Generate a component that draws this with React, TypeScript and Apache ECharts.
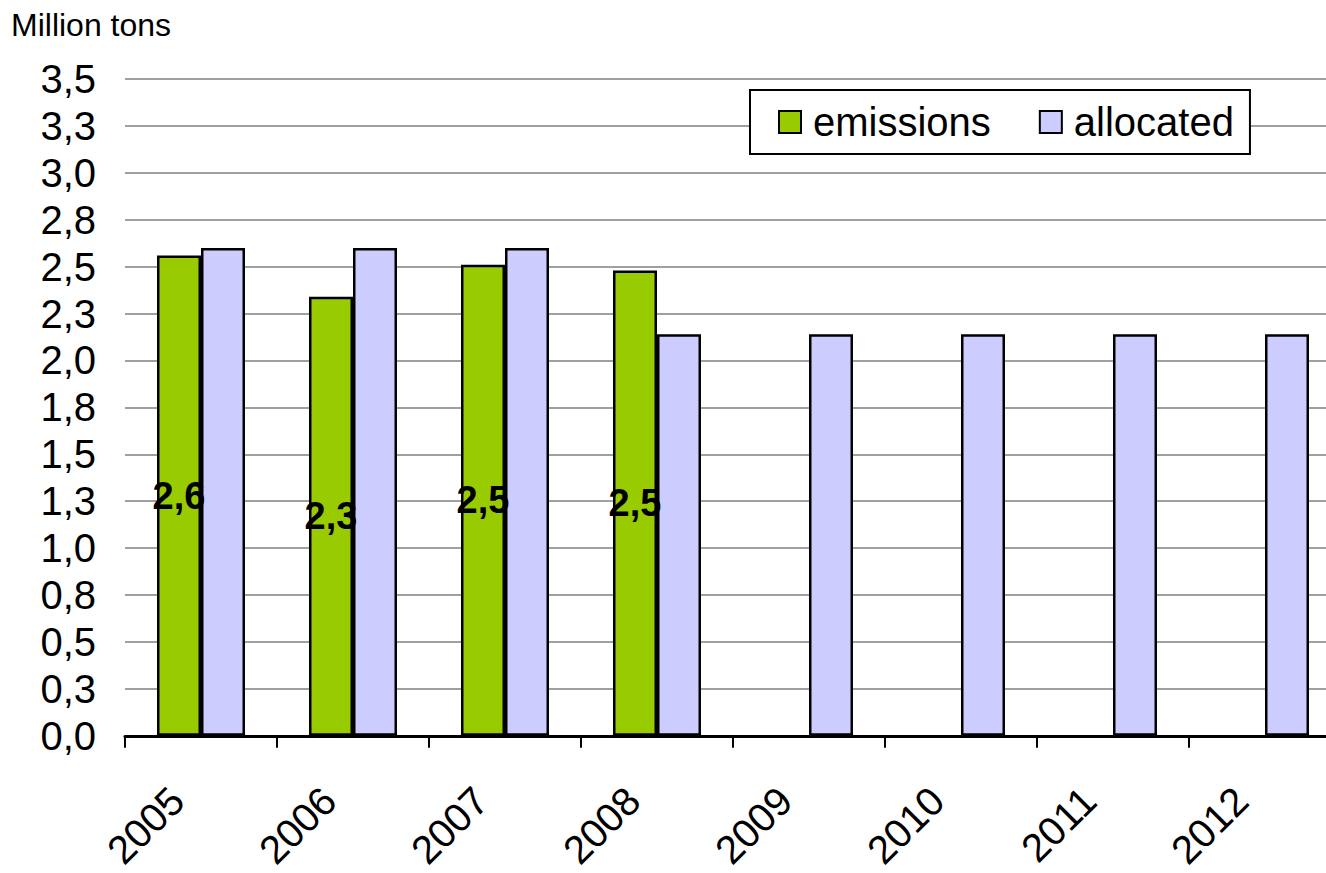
import React, { useEffect, useRef } from "react";
import * as echarts from "echarts";

const years = ["2005", "2006", "2007", "2008", "2009", "2010", "2011", "2012"];
const emissions: (number | null)[] = [2.56, 2.34, 2.51, 2.48, null, null, null, null];
const allocated = [2.6, 2.6, 2.6, 2.14, 2.14, 2.14, 2.14, 2.14];
const yTickLabels = ["0,0", "0,3", "0,5", "0,8", "1,0", "1,3", "1,5", "1,8", "2,0", "2,3", "2,5", "2,8", "3,0", "3,3", "3,5"];
const yStep = 0.25;

const FONT = "'Liberation Sans', Arial, Helvetica, sans-serif";

export default function App() {
  const ref = useRef<HTMLDivElement>(null);
  useEffect(() => {
    document.body.style.margin = "0";
    document.body.style.overflow = "hidden";
    document.documentElement.style.overflow = "hidden";
    const chart = echarts.init(ref.current!, undefined, { renderer: "svg" });
    chart.setOption({
      animation: false,
      backgroundColor: "#fff",
      textStyle: { fontFamily: FONT, color: "#000" },
      title: {
        text: "Million tons",
        left: 11,
        top: 9,
        padding: 0,
        textStyle: { fontFamily: FONT, fontSize: 32, fontWeight: "normal", color: "#000" },
      },
      legend: {
        left: 750,
        top: 90,
        padding: [12, 16, 12, 28],
        borderColor: "#000",
        borderWidth: 2,
        backgroundColor: "#fff",
        itemWidth: 22,
        itemHeight: 22,
        itemGap: 48,
        icon: "rect",
        textStyle: { fontFamily: FONT, fontSize: 40, color: "#000", padding: [0, 0, 0, 7] },
        data: ["emissions", "allocated"],
      },
      grid: { left: 125, top: 79, bottom: 137, right: 0, containLabel: false },
      xAxis: {
        type: "category",
        data: years,
        axisLine: { show: true, lineStyle: { color: "#000", width: 3 } },
        axisTick: { show: true, interval: 0, length: 12, lineStyle: { color: "#000", width: 2 } },
        axisLabel: {
          interval: 0,
          rotate: 45,
          margin: 34,
          fontSize: 40,
          fontFamily: FONT,
          color: "#000",
          padding: [0, 34, 0, 0],
        },
      },
      yAxis: {
        type: "value",
        min: 0,
        max: 3.5,
        interval: yStep,
        axisLine: { show: false },
        axisTick: { show: false },
        splitLine: { show: true, lineStyle: { color: "#A0A0A0", width: 2 } },
        axisLabel: {
          margin: 29,
          fontSize: 40,
          fontFamily: FONT,
          color: "#000",
          formatter: (v: number) => yTickLabels[Math.round(v / yStep)] ?? "",
        },
      },
      series: [
        {
          name: "emissions",
          type: "bar",
          data: emissions,
          barWidth: 44,
          barGap: "0%",
          itemStyle: { color: "#99CC00", borderColor: "#000", borderWidth: 2.5 },
          label: {
            show: true,
            position: "inside",
            fontSize: 38,
            fontWeight: "bold",
            fontFamily: FONT,
            color: "#000",
            formatter: (p: any) => Number(p.value).toFixed(1).replace(".", ","),
          },
        },
        {
          name: "allocated",
          type: "bar",
          data: allocated,
          barWidth: 44,
          barGap: "0%",
          itemStyle: { color: "#CCCCFF", borderColor: "#000", borderWidth: 2.5 },
        },
      ],
    });
    return () => chart.dispose();
  }, []);
  return <div ref={ref} style={{ width: 1341, height: 873 }} />;
}
